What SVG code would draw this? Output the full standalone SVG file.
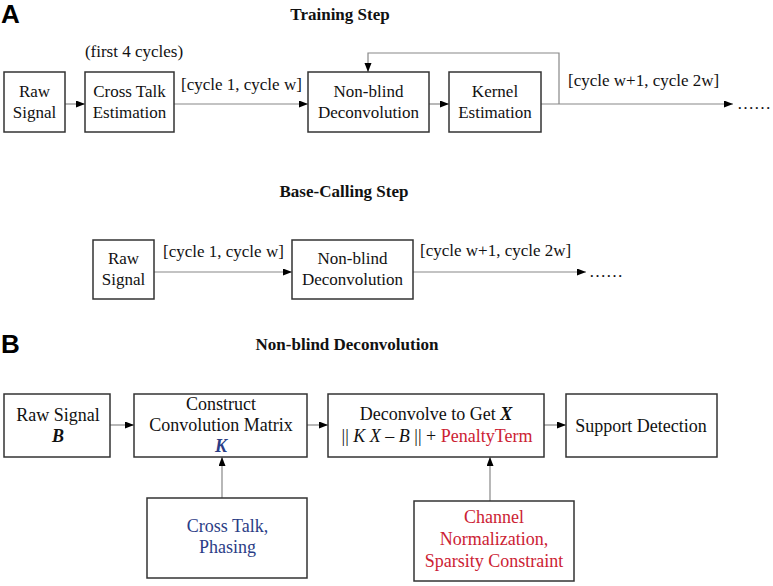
<svg xmlns="http://www.w3.org/2000/svg" width="773" height="586" viewBox="0 0 773 586">
<defs>
<marker id="ah" markerUnits="userSpaceOnUse" markerWidth="10" markerHeight="8" refX="9" refY="3.5" orient="auto">
<path d="M0,0 L9,3.5 L0,7 z" fill="#000"/>
</marker>
<style>
.box{fill:#fff;stroke:#333;stroke-width:1.5}
.t{font-family:"Liberation Serif","Times New Roman",serif;fill:#111}
.a{font-size:17px}
.b{font-size:18px}
.h{font-size:17px;font-weight:bold}
.p{font-family:"Liberation Sans",Arial,sans-serif;font-size:26px;font-weight:bold;fill:#000}
.c{fill:none;stroke:#888;stroke-width:1.2}
.arr{marker-end:url(#ah)}
.red{fill:#cc2233}
.blue{fill:#2b3d86}
</style>
</defs>
<rect width="773" height="586" fill="#fff"/>

<text class="p" x="1" y="23">A</text>
<text class="p" x="1" y="353">B</text>
<text class="t h" x="340" y="20" text-anchor="middle">Training Step</text>
<text class="t h" x="344" y="197" text-anchor="middle">Base-Calling Step</text>
<text class="t h" x="347" y="350" text-anchor="middle">Non-blind Deconvolution</text>

<g id="connectors">
<line class="c arr" x1="65" y1="104" x2="85" y2="104"/>
<line class="c arr" x1="174" y1="104" x2="308" y2="104"/>
<line class="c arr" x1="429" y1="104" x2="449" y2="104"/>
<line class="c arr" x1="541" y1="104" x2="733" y2="104"/>
<polyline class="c arr" points="559,104 559,53 368,53 368,72"/>
<line class="c arr" x1="154" y1="272" x2="292" y2="272"/>
<line class="c arr" x1="413" y1="272" x2="586" y2="272"/>
<line class="c arr" x1="110" y1="425" x2="134" y2="425"/>
<line class="c arr" x1="307" y1="425" x2="328" y2="425"/>
<line class="c arr" x1="544" y1="425" x2="566" y2="425"/>
<line class="c arr" x1="222" y1="498" x2="222" y2="457"/>
<line class="c arr" x1="490" y1="501" x2="490" y2="457"/>
<text class="t a" x="134" y="57" text-anchor="middle">(first 4 cycles)</text>
<text class="t a" x="181" y="90">[cycle 1, cycle w]</text>
<text class="t a" x="568" y="86">[cycle w+1, cycle 2w]</text>
<text class="t a" x="737" y="109">……</text>
<text class="t a" x="163" y="257">[cycle 1, cycle w]</text>
<text class="t a" x="420" y="256">[cycle w+1, cycle 2w]</text>
<text class="t a" x="589" y="277">……</text>
</g>

<g id="a-raw">
<rect class="box" x="4" y="72" width="61" height="60"/>
<text class="t a" x="34.5" y="97" text-anchor="middle">Raw</text>
<text class="t a" x="34.5" y="118" text-anchor="middle">Signal</text>
</g>
<g id="a-crosstalk">
<rect class="box" x="85" y="72" width="89" height="60"/>
<text class="t a" x="129.5" y="97" text-anchor="middle">Cross Talk</text>
<text class="t a" x="129.5" y="118" text-anchor="middle">Estimation</text>
</g>
<g id="a-nonblind">
<rect class="box" x="308" y="72" width="121" height="60"/>
<text class="t a" x="368.5" y="97" text-anchor="middle">Non-blind</text>
<text class="t a" x="368.5" y="118" text-anchor="middle">Deconvolution</text>
</g>
<g id="a-kernel">
<rect class="box" x="449" y="72" width="92" height="60"/>
<text class="t a" x="495" y="97" text-anchor="middle">Kernel</text>
<text class="t a" x="495" y="118" text-anchor="middle">Estimation</text>
</g>

<g id="bc-raw">
<rect class="box" x="93" y="240" width="61" height="59"/>
<text class="t a" x="123.5" y="264" text-anchor="middle">Raw</text>
<text class="t a" x="123.5" y="285" text-anchor="middle">Signal</text>
</g>
<g id="bc-nonblind">
<rect class="box" x="292" y="240" width="121" height="59"/>
<text class="t a" x="352.5" y="264" text-anchor="middle">Non-blind</text>
<text class="t a" x="352.5" y="285" text-anchor="middle">Deconvolution</text>
</g>

<g id="b-raw">
<rect class="box" x="4" y="394" width="106" height="63"/>
<text class="t b" x="58" y="421" text-anchor="middle">Raw Signal</text>
<text class="t b" x="58" y="442" text-anchor="middle" font-weight="bold" font-style="italic">B</text>
</g>
<g id="b-construct">
<rect class="box" x="134" y="394" width="173" height="63"/>
<text class="t b" x="221" y="410" text-anchor="middle">Construct</text>
<text class="t b" x="221" y="431" text-anchor="middle">Convolution Matrix</text>
<text class="t b blue" x="221" y="452" text-anchor="middle" font-weight="bold" font-style="italic">K</text>
</g>
<g id="b-deconvolve">
<rect class="box" x="328" y="394" width="216" height="63"/>
<text class="t b" x="436" y="420" text-anchor="middle">Deconvolve to Get <tspan font-weight="bold" font-style="italic">X</tspan></text>
<text class="t b" x="437" y="442" text-anchor="middle">|| <tspan font-style="italic">K X</tspan> – <tspan font-style="italic">B</tspan> || + <tspan class="red">PenaltyTerm</tspan></text>
</g>
<g id="b-support">
<rect class="box" x="566" y="394" width="151" height="63"/>
<text class="t b" x="641" y="432" text-anchor="middle">Support Detection</text>
</g>
<g id="b-crosstalk">
<rect class="box" x="147" y="498" width="160" height="80"/>
<text class="t b blue" x="227.5" y="532" text-anchor="middle">Cross Talk,</text>
<text class="t b blue" x="227.5" y="553" text-anchor="middle">Phasing</text>
</g>
<g id="b-channel">
<rect class="box" x="414" y="501" width="160" height="80"/>
<text class="t b red" x="494" y="523" text-anchor="middle">Channel</text>
<text class="t b red" x="494" y="545" text-anchor="middle">Normalization,</text>
<text class="t b red" x="494" y="567" text-anchor="middle">Sparsity Constraint</text>
</g>
</svg>
